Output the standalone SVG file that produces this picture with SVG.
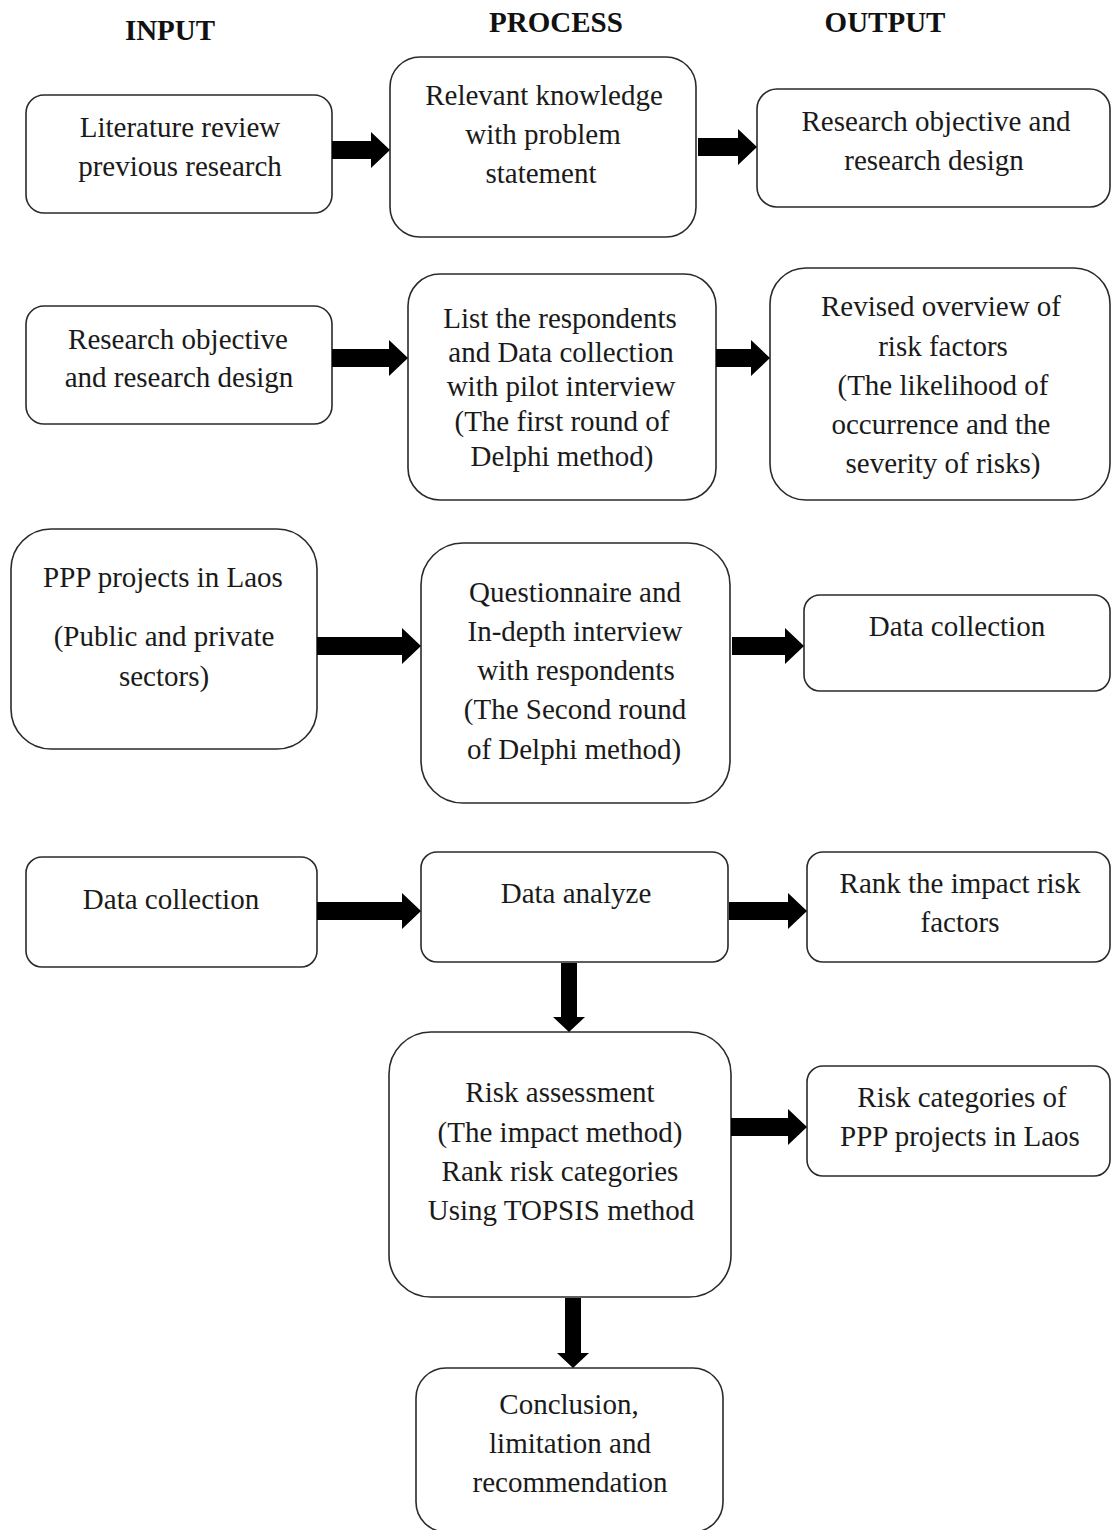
<svg xmlns="http://www.w3.org/2000/svg" width="1111" height="1530" viewBox="0 0 1111 1530">
  <style>
    .box { fill: #ffffff; stroke: #2a2a2a; stroke-width: 1.6; }
    .t { font-family: "Liberation Serif", "Times New Roman", serif; font-size: 29px; fill: #1a1a1a; text-anchor: middle; }
    .h { font-family: "Liberation Serif", "Times New Roman", serif; font-size: 29px; font-weight: bold; fill: #111111; text-anchor: middle; }
    .arr { fill: #000000; }
  </style>
  <rect width="1111" height="1530" fill="#ffffff"/>

  <!-- column headers -->
  <g id="headers">
    <text class="h" x="170" y="40">INPUT</text>
    <text class="h" x="556" y="32">PROCESS</text>
    <text class="h" x="885" y="32">OUTPUT</text>
  </g>

  <!-- row 1 -->
  <g id="literature-review">
    <rect class="box" x="26" y="95" width="306" height="118" rx="18"/>
    <text class="t" x="180" y="137">Literature review</text>
    <text class="t" x="180" y="176">previous research</text>
  </g>
  <g id="relevant-knowledge">
    <rect class="box" x="390" y="57" width="306" height="180" rx="30"/>
    <text class="t" x="544" y="105">Relevant knowledge</text>
    <text class="t" x="543" y="144">with problem</text>
    <text class="t" x="541" y="183">statement</text>
  </g>
  <g id="objective-design-out">
    <rect class="box" x="757" y="89" width="353" height="118" rx="20"/>
    <text class="t" x="936" y="131">Research objective and</text>
    <text class="t" x="934" y="170">research design</text>
  </g>

  <!-- row 2 -->
  <g id="objective-design-in">
    <rect class="box" x="26" y="306" width="306" height="118" rx="18"/>
    <text class="t" x="178" y="349">Research objective</text>
    <text class="t" x="179" y="387">and research design</text>
  </g>
  <g id="list-respondents">
    <rect class="box" x="408" y="274" width="308" height="226" rx="32"/>
    <text class="t" x="560" y="328">List the respondents</text>
    <text class="t" x="561" y="362">and Data collection</text>
    <text class="t" x="561" y="396">with pilot interview</text>
    <text class="t" x="562" y="431">(The first round of</text>
    <text class="t" x="562" y="466">Delphi method)</text>
  </g>
  <g id="revised-overview">
    <rect class="box" x="770" y="268" width="340" height="232" rx="36"/>
    <text class="t" x="941" y="316">Revised overview of</text>
    <text class="t" x="943" y="356">risk factors</text>
    <text class="t" x="943" y="395">(The likelihood of</text>
    <text class="t" x="941" y="434">occurrence and the</text>
    <text class="t" x="943" y="473">severity of risks)</text>
  </g>

  <!-- row 3 -->
  <g id="ppp-projects">
    <rect class="box" x="11" y="529" width="306" height="220" rx="40"/>
    <text class="t" x="163" y="587">PPP projects in Laos</text>
    <text class="t" x="164" y="646">(Public and private</text>
    <text class="t" x="164" y="686">sectors)</text>
  </g>
  <g id="questionnaire">
    <rect class="box" x="421" y="543" width="309" height="260" rx="42"/>
    <text class="t" x="575" y="602">Questionnaire and</text>
    <text class="t" x="575" y="641">In-depth interview</text>
    <text class="t" x="576" y="680">with respondents</text>
    <text class="t" x="575" y="719">(The Second round</text>
    <text class="t" x="574" y="759">of Delphi method)</text>
  </g>
  <g id="data-collection-out">
    <rect class="box" x="804" y="595" width="306" height="96" rx="16"/>
    <text class="t" x="957" y="636">Data collection</text>
  </g>

  <!-- row 4 -->
  <g id="data-collection-in">
    <rect class="box" x="26" y="857" width="291" height="110" rx="16"/>
    <text class="t" x="171" y="909">Data collection</text>
  </g>
  <g id="data-analyze">
    <rect class="box" x="421" y="852" width="307" height="110" rx="16"/>
    <text class="t" x="576" y="903">Data analyze</text>
  </g>
  <g id="rank-impact">
    <rect class="box" x="807" y="852" width="303" height="110" rx="16"/>
    <text class="t" x="960" y="893">Rank the impact risk</text>
    <text class="t" x="960" y="932">factors</text>
  </g>

  <!-- row 5 -->
  <g id="risk-assessment">
    <rect class="box" x="389" y="1032" width="342" height="265" rx="42"/>
    <text class="t" x="560" y="1102">Risk assessment</text>
    <text class="t" x="560" y="1142">(The impact method)</text>
    <text class="t" x="560" y="1181">Rank risk categories</text>
    <text class="t" x="561" y="1220">Using TOPSIS method</text>
  </g>
  <g id="risk-categories">
    <rect class="box" x="807" y="1066" width="303" height="110" rx="16"/>
    <text class="t" x="962" y="1107">Risk categories of</text>
    <text class="t" x="960" y="1146">PPP projects in Laos</text>
  </g>

  <!-- row 6 -->
  <g id="conclusion">
    <rect class="box" x="416" y="1368" width="307" height="164" rx="30"/>
    <text class="t" x="569" y="1414">Conclusion,</text>
    <text class="t" x="570" y="1453">limitation and</text>
    <text class="t" x="570" y="1492">recommendation</text>
  </g>

  <!-- block arrows between stages -->
  <g id="connectors">
    <polygon class="arr" points="332,141 371,141 371,132 390,150 371,168 371,159 332,159"/>
    <polygon class="arr" points="698,138 738,138 738,129 757,147 738,165 738,156 698,156"/>
    <polygon class="arr" points="332,349 389,349 389,340 408,358 389,376 389,367 332,367"/>
    <polygon class="arr" points="716,349 751,349 751,340 770,358 751,376 751,367 716,367"/>
    <polygon class="arr" points="317,637 402,637 402,628 421,646 402,664 402,655 317,655"/>
    <polygon class="arr" points="732,637 785,637 785,628 804,646 785,664 785,655 732,655"/>
    <polygon class="arr" points="317,902 402,902 402,893 421,911 402,929 402,920 317,920"/>
    <polygon class="arr" points="729,902 788,902 788,893 807,911 788,929 788,920 729,920"/>
    <polygon class="arr" points="731,1118 788,1118 788,1109 807,1127 788,1145 788,1136 731,1136"/>
    <polygon class="arr" points="561,963 577,963 577,1017 585,1017 569,1032 553,1017 561,1017"/>
    <polygon class="arr" points="565,1298 581,1298 581,1353 589,1353 573,1368 557,1353 565,1353"/>
  </g>
</svg>
